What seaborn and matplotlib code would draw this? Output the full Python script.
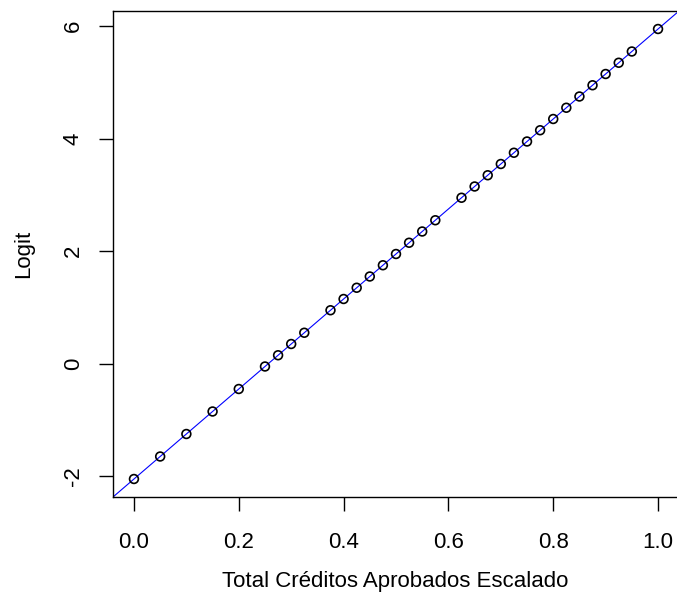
import numpy as np
import pandas as pd
import matplotlib
matplotlib.use("Agg")
import matplotlib.pyplot as plt
import seaborn as sns

# Total credits (scaled) and the fitted logit
creditos = [0.0, 0.05, 0.1, 0.15, 0.2, 0.25, 0.275, 0.3, 0.325, 0.375, 0.4,
            0.425, 0.45, 0.475, 0.5, 0.525, 0.55, 0.575, 0.625, 0.65, 0.675,
            0.7, 0.725, 0.75, 0.775, 0.8, 0.825, 0.85, 0.875, 0.9, 0.925,
            0.95, 1.0]
logit = [-2.05, -1.65, -1.25, -0.85, -0.45, -0.05, 0.15, 0.35, 0.55, 0.95, 1.15,
         1.35, 1.55, 1.75, 1.95, 2.15, 2.35, 2.55, 2.95, 3.15, 3.35,
         3.55, 3.75, 3.95, 4.15, 4.35, 4.55, 4.75, 4.95, 5.15, 5.35,
         5.55, 5.95]

x_ticks = [0.0, 0.2, 0.4, 0.6, 0.8, 1.0]
x_tick_labels = ["0.0", "0.2", "0.4", "0.6", "0.8", "1.0"]
y_ticks = [-2, 0, 2, 4, 6]
y_tick_labels = ["-2", "0", "2", "4", "6"]

sns.set_style("ticks")
plt.rcParams['font.family'] = ['Liberation Sans', 'DejaVu Sans']

df = pd.DataFrame({"creditos": creditos, "logit": logit})

fig = plt.figure(figsize=(6.77, 6.03), dpi=100)
ax = fig.add_axes([113 / 677, 106 / 603, 566 / 677, 486 / 603])

# fitted straight line (abline style), runs past the plot box
slope, intercept = np.polyfit(df["creditos"], df["logit"], 1)
ax.axline((0, intercept), slope=slope, color="blue", lw=0.8, zorder=1)

sns.scatterplot(data=df, x="creditos", y="logit", ax=ax, marker="o",
                s=40, facecolor="none", edgecolor="black", linewidth=1.2,
                zorder=2)

ax.set_xlim(-0.04, 1.04)
ax.set_ylim(-2.37, 6.27)
ax.set_xticks(x_ticks)
ax.set_xticklabels(x_tick_labels)
ax.set_yticks(y_ticks)
ax.set_yticklabels(y_tick_labels, rotation=90, va="center")

ax.tick_params(axis="both", length=10, width=1, color="black",
               labelsize=16, labelcolor="black")
ax.tick_params(axis="x", pad=15)
ax.tick_params(axis="y", pad=11)
for sp in ax.spines.values():
    sp.set_visible(True)
    sp.set_color("black")
    sp.set_linewidth(1.0)

ax.set_xlabel("Total Créditos Aprobados Escalado", fontsize=16, color="black")
ax.set_ylabel("Logit", fontsize=16, color="black")
ax.xaxis.set_label_coords(0.498, -0.152)
ax.yaxis.set_label_coords(-0.14, 0.5)

fig.savefig("out.png", dpi=100)
